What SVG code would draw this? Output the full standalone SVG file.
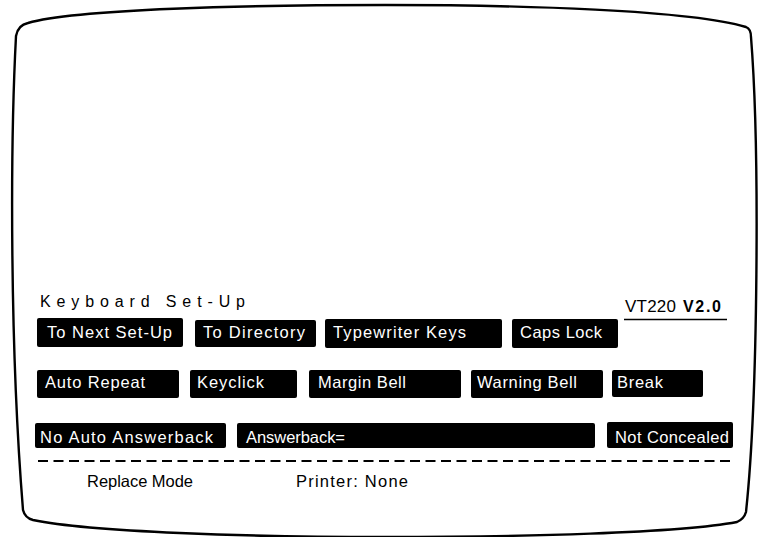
<svg xmlns="http://www.w3.org/2000/svg" width="769" height="537" viewBox="0 0 769 537">
  <style>
    .frame { fill: none; stroke: #000; stroke-width: 2.4; stroke-linejoin: round; }
    .key { fill: #000; }
    .lbl { fill: #fff; font-family: "Liberation Sans", Arial, sans-serif; font-size: 16.5px; }
    .txt { fill: #000; font-family: "Liberation Sans", Arial, sans-serif; }
    .dash { stroke: #000; stroke-width: 2; stroke-dasharray: 10 5.5; fill: none; }
  </style>

  <!-- screen outline of the terminal -->
  <path class="frame" d="M28,23 C75,9 250,5 385,5 C520,5 690,10 746,27 Q751,29 751,37 C760,150 758,400 746,512 Q744,519 737,522 C680,533 520,537 385,537 C250,537 90,532 33,520 Q25,518 23,510 C10,350 10,150 16,36 Q18,25 28,23 Z"/>

  <!-- header -->
  <g id="title">
    <text class="txt" x="40" y="307" font-size="16" textLength="205" lengthAdjust="spacing">Keyboard Set-Up</text>
  </g>
  <g id="version">
    <text class="txt" x="625" y="312" font-size="17" textLength="51" lengthAdjust="spacing">VT220</text>
    <text class="txt" x="683" y="312" font-size="16" font-weight="bold" textLength="38" lengthAdjust="spacing">V2.0</text>
    <line x1="624" y1="319.5" x2="727" y2="319.5" stroke="#000" stroke-width="1.6"/>
  </g>

  <!-- row 1 -->
  <g id="to-next-setup">
    <rect class="key" x="37" y="318" width="146" height="29" rx="2"/>
    <text class="lbl" x="47" y="338" textLength="125" lengthAdjust="spacing">To Next Set-Up</text>
  </g>
  <g id="to-directory">
    <rect class="key" x="195" y="320" width="121" height="27" rx="2"/>
    <text class="lbl" x="203" y="338" textLength="102" lengthAdjust="spacing">To Directory</text>
  </g>
  <g id="typewriter-keys">
    <rect class="key" x="325" y="319" width="177" height="29" rx="2"/>
    <text class="lbl" x="333" y="338" textLength="133" lengthAdjust="spacing">Typewriter Keys</text>
  </g>
  <g id="caps-lock">
    <rect class="key" x="512" y="319" width="106" height="29" rx="2"/>
    <text class="lbl" x="520" y="338" textLength="82" lengthAdjust="spacing">Caps Lock</text>
  </g>

  <!-- row 2 -->
  <g id="auto-repeat">
    <rect class="key" x="37" y="370" width="142" height="28" rx="2"/>
    <text class="lbl" x="45" y="388" textLength="100" lengthAdjust="spacing">Auto Repeat</text>
  </g>
  <g id="keyclick">
    <rect class="key" x="190" y="370" width="107" height="28" rx="2"/>
    <text class="lbl" x="197" y="388" textLength="67" lengthAdjust="spacing">Keyclick</text>
  </g>
  <g id="margin-bell">
    <rect class="key" x="309" y="370" width="152" height="28" rx="2"/>
    <text class="lbl" x="318" y="388" textLength="88" lengthAdjust="spacing">Margin Bell</text>
  </g>
  <g id="warning-bell">
    <rect class="key" x="471" y="370" width="132" height="28" rx="2"/>
    <text class="lbl" x="477" y="388" textLength="100" lengthAdjust="spacing">Warning Bell</text>
  </g>
  <g id="break">
    <rect class="key" x="612" y="370" width="91" height="27" rx="2"/>
    <text class="lbl" x="617" y="388" textLength="46" lengthAdjust="spacing">Break</text>
  </g>

  <!-- row 3 -->
  <g id="no-auto-answerback">
    <rect class="key" x="35" y="423" width="191" height="25" rx="2"/>
    <text class="lbl" x="40" y="443" textLength="173" lengthAdjust="spacing">No Auto Answerback</text>
  </g>
  <g id="answerback">
    <rect class="key" x="237" y="423" width="358" height="25" rx="2"/>
    <text class="lbl" x="246" y="443" textLength="99" lengthAdjust="spacing">Answerback=</text>
  </g>
  <g id="not-concealed">
    <rect class="key" x="607" y="422" width="126" height="26" rx="2"/>
    <text class="lbl" x="615" y="443" textLength="114" lengthAdjust="spacing">Not Concealed</text>
  </g>

  <!-- status line -->
  <line class="dash" x1="38" y1="461" x2="733" y2="461"/>
  <g id="replace-mode">
    <text class="txt" x="87" y="487" font-size="16.5" textLength="106" lengthAdjust="spacing">Replace Mode</text>
  </g>
  <g id="printer">
    <text class="txt" x="296" y="487" font-size="16.5" textLength="112" lengthAdjust="spacing">Printer: None</text>
  </g>
</svg>
